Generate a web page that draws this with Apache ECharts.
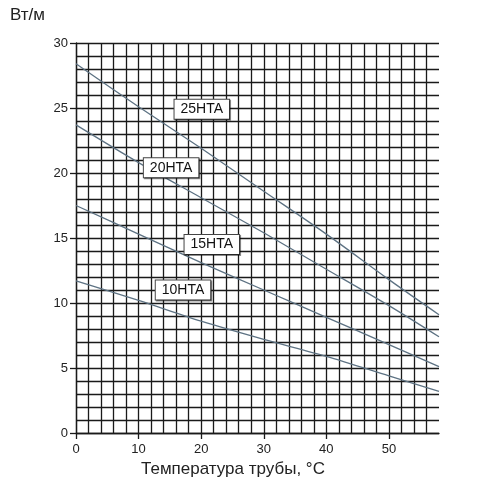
<!DOCTYPE html>
<html>
<head>
<meta charset="utf-8">
<script src="https://cdn.jsdelivr.net/npm/echarts@6/dist/echarts.min.js"></script>
<style>
  html, body { margin: 0; padding: 0; background: #fff; }
  #chart { width: 479px; height: 501px; }
</style>
</head>
<body>
<div id="chart"></div>
<script>
// температура трубы, °C
const temps = [0, 10, 20, 30, 40, 50, 58];
// тепловыделение, Вт/м
const ht25 = [28.4, 25.1, 21.9, 18.6, 15.3, 11.8, 9.1];
const ht20 = [23.7, 20.8, 18.1, 15.4, 12.6, 9.8, 7.4];
const ht15 = [17.5, 15.3, 13.1, 11.0, 8.9, 6.8, 5.1];
const ht10 = [11.7, 10.2, 8.6, 7.2, 5.9, 4.4, 3.2];
const seriesNames = ['25HTA', '20HTA', '15HTA', '10HTA'];
const xTicks = [0, 10, 20, 30, 40, 50];
const yTicks = [0, 5, 10, 15, 20, 25, 30];

const font = 'Liberation Sans, Arial, sans-serif';
const gridColor = '#1a1a1a';
const curveColor = '#5d7283';
const gridLine = { color: gridColor, width: 1.3 };

function pairs(ys) {
  return temps.map((t, i) => [t, ys[i]]);
}

// где стоят подписи кривых (в координатах графика)
const labelAt = {
  '25HTA': [20.1, 24.9],
  '20HTA': [15.2, 20.4],
  '15HTA': [21.7, 14.5],
  '10HTA': [17.1, 11.0]
};

function curve(name, ys) {
  return {
    name: name,
    type: 'line',
    data: pairs(ys),
    smooth: 0.3,
    symbol: 'none',
    lineStyle: { color: curveColor, width: 1.3 },
    silent: true,
    z: 3,
    markPoint: {
      symbol: 'rect',
      symbolSize: [1, 1],
      itemStyle: { color: 'rgba(0,0,0,0)' },
      silent: true,
      label: {
        show: true,
        position: 'inside',
        formatter: name,
        fontFamily: font,
        fontSize: 14,
        color: '#111',
        backgroundColor: '#fff',
        borderColor: '#444',
        borderWidth: 1,
        padding: [3, 6, 2, 6],
        shadowColor: 'rgba(0,0,0,0.45)',
        shadowOffsetX: 1,
        shadowOffsetY: 1,
        shadowBlur: 0
      },
      data: [{ coord: labelAt[name] }]
    }
  };
}

const chart = echarts.init(document.getElementById('chart'), null, { renderer: 'canvas' });
const option = {
  animation: false,
  backgroundColor: '#fff',
  grid: { left: 76, right: 40, top: 43, bottom: 68 },
  xAxis: [
    {
      // сетка через 2 °C
      type: 'value',
      min: 0,
      max: 58,
      interval: 2,
      axisLine: { show: true, lineStyle: gridLine },
      axisTick: { show: false },
      axisLabel: { show: false },
      splitLine: { show: true, showMaxLine: false, lineStyle: gridLine }
    },
    {
      // подписи через 10 °C
      type: 'value',
      position: 'bottom',
      min: 0,
      max: 58,
      interval: 10,
      axisLine: { show: false },
      axisTick: { show: true, customValues: xTicks, length: 6, lineStyle: gridLine },
      axisLabel: {
        customValues: xTicks,
        margin: 10,
        fontFamily: font,
        fontSize: 13,
        color: '#222'
      },
      splitLine: { show: false }
    }
  ],
  yAxis: [
    {
      type: 'value',
      min: 0,
      max: 30,
      interval: 1,
      axisLine: { show: true, lineStyle: gridLine },
      axisTick: { show: false },
      axisLabel: { show: false },
      splitLine: { show: true, lineStyle: gridLine }
    },
    {
      type: 'value',
      position: 'left',
      min: 0,
      max: 30,
      interval: 5,
      axisLine: { show: false },
      axisTick: { show: true, customValues: yTicks, length: 6, lineStyle: gridLine },
      axisLabel: {
        customValues: yTicks,
        margin: 8,
        fontFamily: font,
        fontSize: 13,
        color: '#222'
      },
      splitLine: { show: false }
    }
  ],
  graphic: [
    {
      type: 'text',
      left: 10,
      top: 7,
      style: { text: 'Вт/м', font: '17px ' + font, fill: '#222' }
    },
    {
      type: 'text',
      left: 141,
      top: 461,
      style: { text: 'Температура трубы, °C', font: '17px ' + font, fill: '#222' }
    }
  ],
  series: [
    curve(seriesNames[0], ht25),
    curve(seriesNames[1], ht20),
    curve(seriesNames[2], ht15),
    curve(seriesNames[3], ht10)
  ]
};
chart.setOption(option);
</script>
</body>
</html>
